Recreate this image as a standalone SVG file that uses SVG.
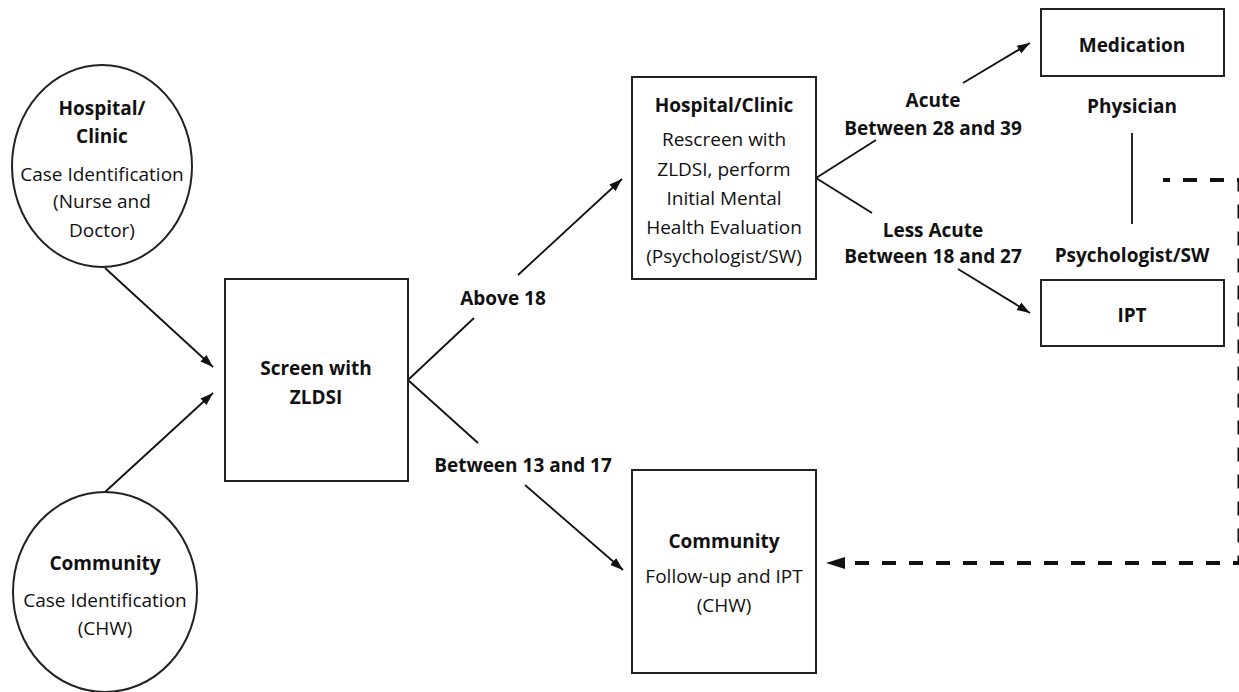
<svg xmlns="http://www.w3.org/2000/svg" width="1239" height="692" viewBox="0 0 1239 692">
<style>
text{font-family:"Open Sans","Noto Sans","Liberation Sans",sans-serif;font-size:19px;fill:#111;text-anchor:middle}
.b{font-weight:bold}
.shape{fill:#fff;stroke:#222;stroke-width:2}
.ln{stroke:#111;stroke-width:1.8;fill:none}
.dash{stroke:#111;stroke-width:4;fill:none;stroke-dasharray:14 13}
</style>
<defs>
<marker id="ah" markerUnits="userSpaceOnUse" markerWidth="14" markerHeight="10" refX="13" refY="5" orient="auto">
<path d="M0,0.5 L13,5 L0,9.5 z" fill="#111"/>
</marker>
</defs>
<rect width="1239" height="692" fill="#fff"/>
<g id="connectors">
<line class="ln" x1="105" y1="268" x2="213" y2="367" marker-end="url(#ah)"/>
<line class="ln" x1="105" y1="492" x2="213" y2="393" marker-end="url(#ah)"/>
<line class="ln" x1="408" y1="380" x2="474" y2="318"/>
<line class="ln" x1="518" y1="275" x2="622" y2="179" marker-end="url(#ah)"/>
<line class="ln" x1="408" y1="380" x2="478" y2="443"/>
<line class="ln" x1="525" y1="485" x2="623" y2="570" marker-end="url(#ah)"/>
<line class="ln" x1="816" y1="178" x2="876" y2="140"/>
<line class="ln" x1="963" y1="83" x2="1030" y2="43" marker-end="url(#ah)"/>
<line class="ln" x1="816" y1="178" x2="872" y2="213"/>
<line class="ln" x1="958" y1="269" x2="1030" y2="313" marker-end="url(#ah)"/>
<line class="ln" x1="1132" y1="133" x2="1132" y2="224"/>
<path class="dash" d="M1163,180 H1239.5 V563 H845" stroke-dashoffset="7"/>
<polygon points="826,563 845,557 845,569" fill="#111"/>
</g>
<g id="hospital-circle">
<ellipse class="shape" cx="102" cy="166" rx="90" ry="101"/>
<text class="b" x="102" y="115">Hospital/</text>
<text class="b" x="102" y="143">Clinic</text>
<text x="102" y="181">Case Identification</text>
<text x="102" y="208">(Nurse and</text>
<text x="102" y="237">Doctor)</text>
</g>
<g id="community-circle">
<ellipse class="shape" cx="105" cy="592" rx="92" ry="100"/>
<text class="b" x="105" y="570">Community</text>
<text x="105" y="607">Case Identification</text>
<text x="105" y="635">(CHW)</text>
</g>
<g id="screen">
<rect class="shape" x="225" y="279" width="183" height="202"/>
<text class="b" x="316" y="375">Screen with</text>
<text class="b" x="316" y="404">ZLDSI</text>
</g>
<g id="hospital-clinic">
<rect class="shape" x="632" y="77" width="184" height="202"/>
<text class="b" x="724" y="112">Hospital/Clinic</text>
<text x="724" y="146">Rescreen with</text>
<text x="724" y="176">ZLDSI, perform</text>
<text x="724" y="205">Initial Mental</text>
<text x="724" y="234">Health Evaluation</text>
<text x="724" y="263">(Psychologist/SW)</text>
</g>
<g id="community-box">
<rect class="shape" x="632" y="470" width="184" height="203"/>
<text class="b" x="724" y="548">Community</text>
<text x="724" y="583">Follow-up and IPT</text>
<text x="724" y="612">(CHW)</text>
</g>
<g id="medication">
<rect class="shape" x="1041" y="9" width="183" height="67"/>
<text class="b" x="1132" y="52">Medication</text>
</g>
<g id="ipt">
<rect class="shape" x="1041" y="280" width="183" height="66"/>
<text class="b" x="1132" y="322">IPT</text>
</g>
<g id="labels">
<text class="b" x="503" y="305">Above 18</text>
<text class="b" x="523" y="472">Between 13 and 17</text>
<text class="b" x="933" y="107">Acute</text>
<text class="b" x="933" y="135">Between 28 and 39</text>
<text class="b" x="933" y="237">Less Acute</text>
<text class="b" x="933" y="263">Between 18 and 27</text>
<text class="b" x="1132" y="113">Physician</text>
<text class="b" x="1132" y="262">Psychologist/SW</text>
</g>
</svg>
